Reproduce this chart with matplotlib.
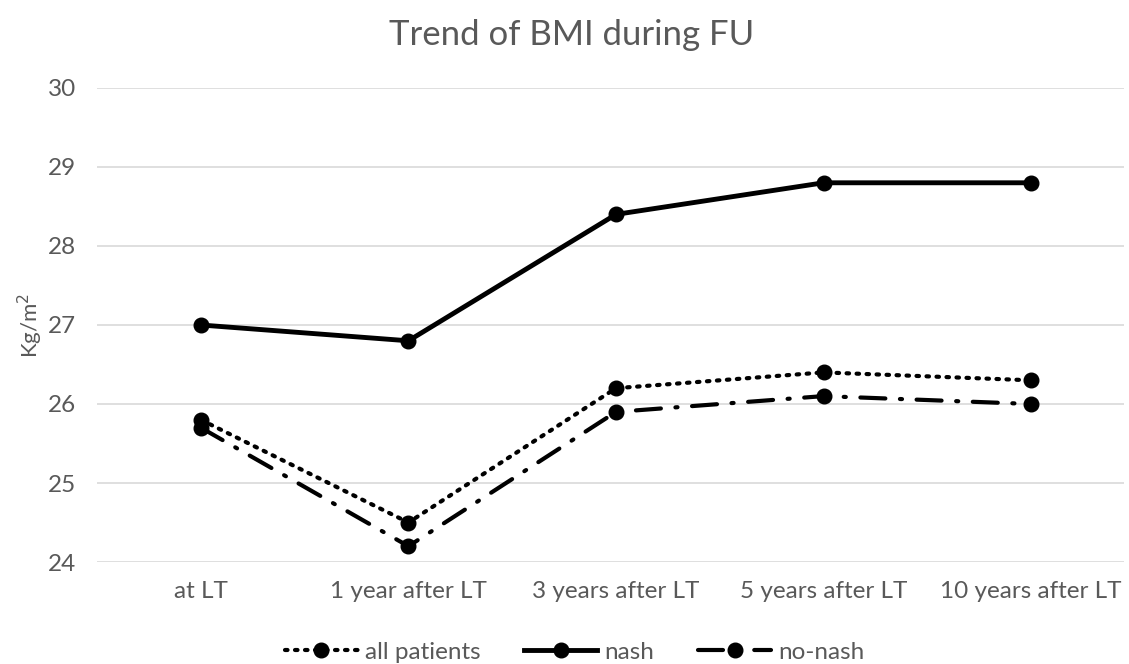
import matplotlib.pyplot as plt

categories = ['at LT', '1 year after LT', '3 years after LT', '5 years after LT', '10 years after LT']
all_patients = [25.8, 24.5, 26.2, 26.4, 26.3]
nash = [27.0, 26.8, 28.4, 28.8, 28.8]
no_nash = [25.7, 24.2, 25.9, 26.1, 26.0]

plt.rcParams['font.family'] = ['Lato', 'DejaVu Sans']
grey = '#595959'

fig = plt.figure(figsize=(11.29, 6.64), dpi=100)
ax = fig.add_axes([0.086, 0.1536, 0.91, 0.7139])

x = range(len(categories))
ax.plot(x, all_patients, color='black', lw=3, linestyle=(0, (0.6, 1.8)),
        dash_capstyle='round', marker='o', ms=10.5, label='all patients')
ax.plot(x, nash, color='black', lw=3.5, marker='o', ms=10.5, label='nash')
ax.plot(x, no_nash, color='black', lw=3, linestyle=(0, (6, 3.5, 0.5, 3.5)),
        dash_capstyle='round', marker='o', ms=10.5, label='no-nash')

ax.set_ylim(24, 30)
ax.set_xlim(-0.5, 4.45)
ax.set_xticks(list(x))
ax.set_xticklabels(categories)
ax.set_yticks(range(24, 31))
ax.grid(axis='y', color='#d9d9d9', lw=1.2)
ax.set_axisbelow(True)
for s in ax.spines.values():
    s.set_visible(False)
ax.tick_params(length=0, labelsize=17.5, colors=grey, pad=14)
ax.tick_params(axis='y', pad=15)
ax.set_ylabel('Kg/m$^2$', fontsize=16, color=grey, labelpad=2)
fig.suptitle('Trend of BMI during FU', fontsize=25, color=grey, x=0.506, y=0.972)

ax.legend(loc='upper center', bbox_to_anchor=(0.465, -0.122), ncol=3, frameon=False,
          fontsize=17.5, labelcolor=grey, handlelength=3.0, columnspacing=1.8,
          handletextpad=0.3)

fig.savefig('out.png', dpi=100)
